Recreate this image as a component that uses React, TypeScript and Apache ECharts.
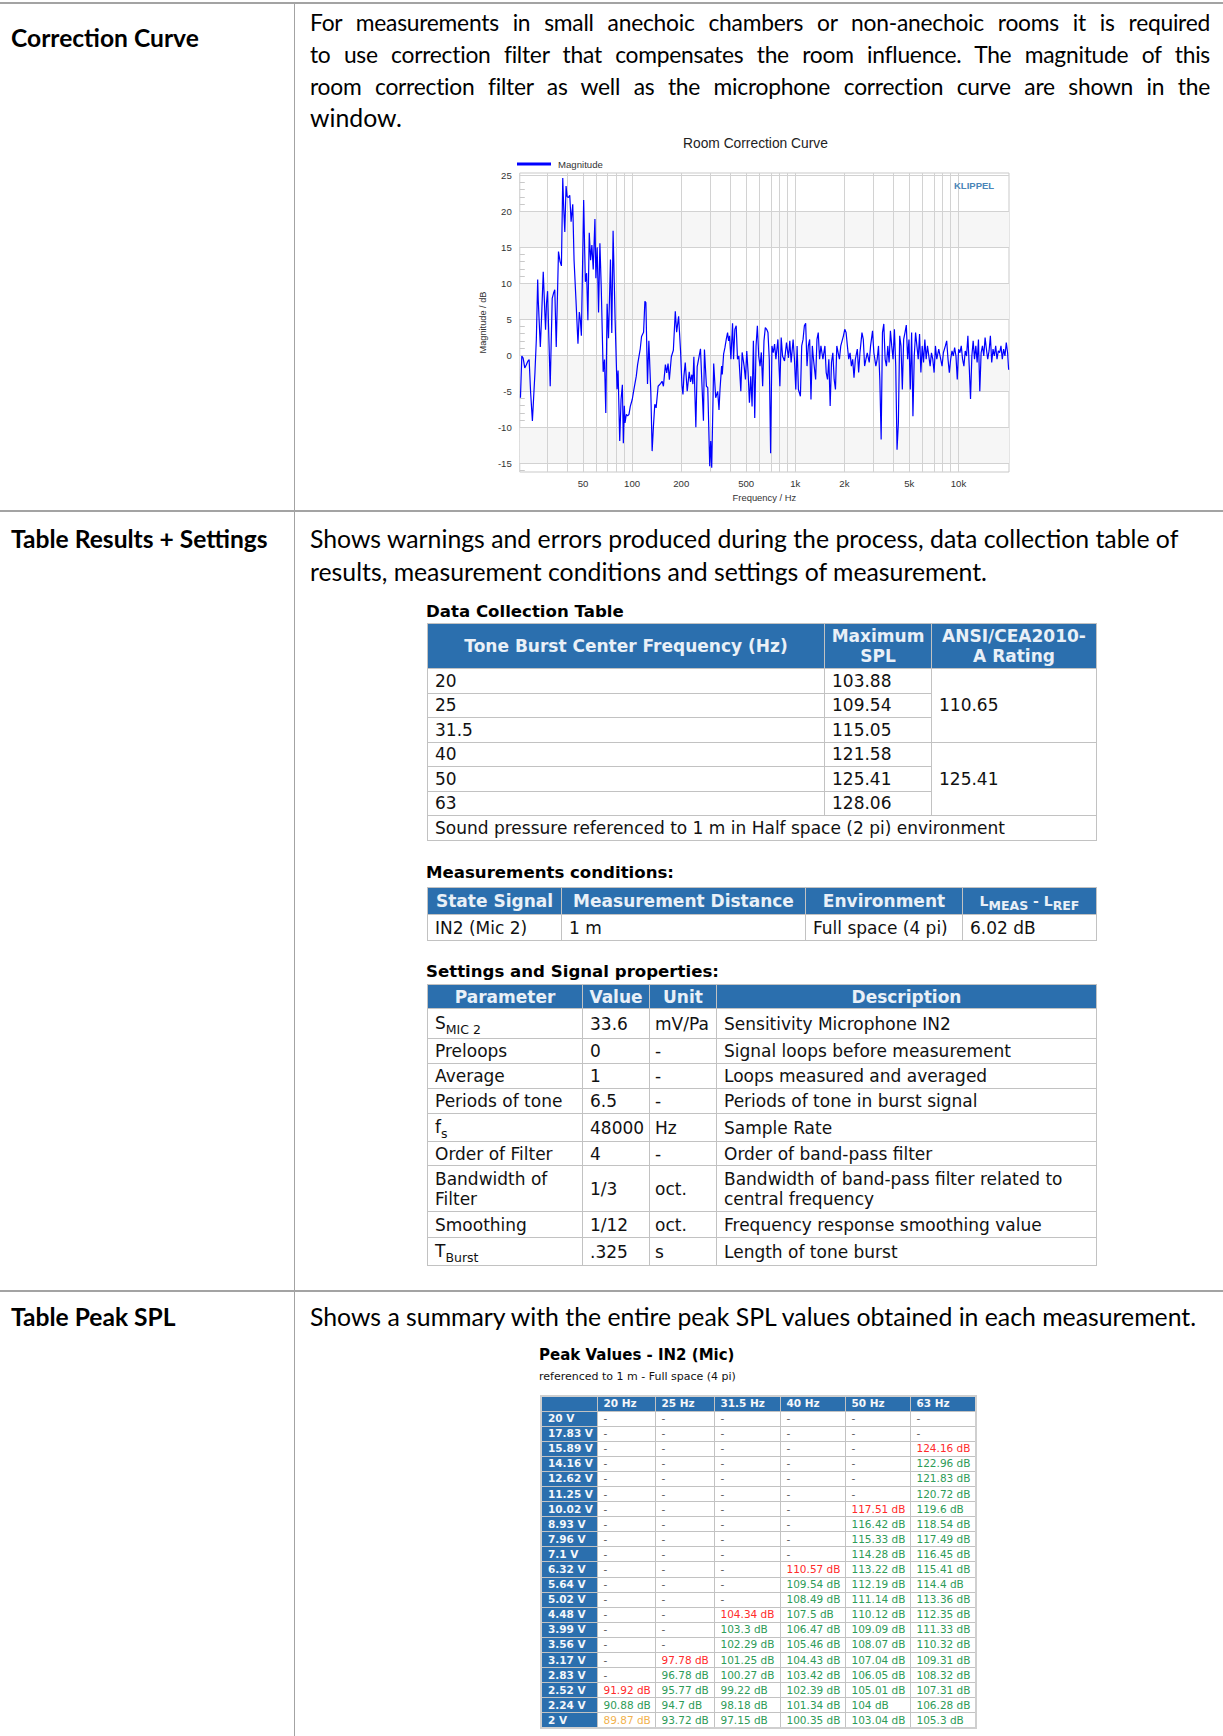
import React, { useEffect, useRef } from "react";
import * as echarts from "echarts";

// ---------------- Chart data (Room Correction Curve) ----------------
const freqLowHz = [
  20.7, 21.1, 21.5, 22.0, 22.5, 23.0, 23.4, 23.9, 24.5, 24.9,
  25.4, 25.9, 26.4, 26.6, 27.4, 27.9, 28.55, 29.2, 29.5, 29.9,
  30.35, 31.5, 32.4, 33.0, 33.6, 34.3, 35.4, 36.2, 36.9, 37.6,
  38.15, 38.7, 39.4, 40.0, 40.7, 41.5, 42.3, 43.3, 44.1, 45.3,
  46.6, 47.5, 48.2, 48.9, 50.5, 51.7, 52.65, 53.6, 54.65, 55.7,
  56.7, 57.8, 59.2, 60.0, 61.1, 62.3, 63.5, 64.7, 66.5, 67.75,
  69.0, 70.3, 71.7, 73.7, 75.1, 76.5, 78.7, 80.9, 82.05, 84.0,
  85.6, 87.2, 88.4, 89.65, 90.5, 92.2, 93.9, 95.7, 97.5, 100.3,
  102.7, 106.1, 108.1, 112.2, 114.3, 117.6, 119.8, 121.5, 124.3, 126.7,
  130.3, 132.7, 135.2, 137.8, 140.4, 144.4, 149.8, 152.7, 155.6, 160,
  163, 166.1, 169.2, 174, 179, 184, 187.5, 192.8, 198.3, 202.1,
  205, 207.8, 211.7, 217.7, 223.9, 228.1, 232.5, 235.8, 239.1, 245.9,
  250.5, 262.5, 273.7, 277.6, 285.5, 290.9, 299.1, 303.3, 307.6, 316.3,
  325.3, 334.6, 340.9, 345.7,
];
const magLowDb = [
  -5.9, -0.1, -0.4, -1.75, -1.3, -0.8, -0.6, -5.2, -9.1, -6.1,
  -2.4, 2.2, 10.5, 7.7, 1.15, 5.4, 11.6, 5.9, 3.55, 7.25,
  8.9, -4.3, 7.9, 8.6, 9.1, 1.15, 14.4, 13.0, 12.4, 24.6,
  20.2, 17.1, 23.5, 22.0, 21.9, 22.2, 18.55, 20.95, 13.2, 7.7,
  1.6, 6.0, 4.9, 2.7, 21.55, 10.2, 11.4, 4.85, 17.0, 13.2,
  15.3, 11.9, 18.9, 10.7, 15.0, 5.95, 15.55, 9.55, -2.3, -0.6,
  -8.0, 7.15, 2.35, 13.3, 3.1, 17.3, 4.9, -4.7, -2.1, -11.9,
  -6.1, -4.1, -12.2, -7.0, -9.4, -8.2, -8.4, -8.2, -7.1, -6.1,
  -4.7, -2.9, -1.3, 0.9, 2.6, 3.2, 7.5, 7.3, -4.0, 2.0,
  -5.2, -13.3, -9.8, -6.8, -7.3, -4.3, -3.9, -3.6, -4.3, -1.3,
  -2.45, -1.15, -3.4, -0.2, 0.7, 6.1, 3.2, 5.4, 0.45, -4.2,
  -5.45, -2.9, -1.0, -5.0, -2.3, -3.7, -2.7, -4.0, -0.2, -10.0,
  -1.6, 0.9, -9.1, 0.8, -4.3, -4.5, -15.4, -11.9, -15.6, -1.15,
  -5.9, -5.0, -7.6, -4.75,
];
const freqHighHz = [
  353.7, 357, 363.7, 370.6, 377.6, 384.7, 390.2, 395.7, 403.2, 412.7,
  418.6, 426.4, 434.5, 442.6, 451, 463.8, 472.5, 485.9, 495.1, 504.4,
  514, 523.7, 533.6, 543.6, 553.8, 564.3, 575, 585.8, 596.9, 608.1,
  619.5, 631.2, 643.1, 655.3, 667.6, 680.2, 693, 706.1, 719.4, 732.9,
  746.8, 760.9, 782.5, 804.7, 819.9, 835.4, 859.1, 883.5, 908.6, 925.7,
  943.2, 970, 988.3, 1007, 1026, 1045, 1075, 1095, 1116, 1137,
  1158, 1180, 1202, 1225, 1248, 1272, 1296, 1333, 1358, 1383,
  1409, 1436, 1477, 1519, 1547, 1576, 1606, 1636, 1667, 1699,
  1731, 1763, 1797, 1831, 1865, 1900, 1936, 1973, 2010, 2048,
  2086, 2126, 2166, 2207, 2248, 2290, 2334, 2400, 2445, 2491,
  2562, 2611, 2660, 2710, 2761, 2839, 2893, 2975, 3031, 3117,
  3176, 3236, 3297, 3359, 3422, 3487, 3553, 3620, 3688, 3758,
  3828, 3900, 3974, 4050, 4126, 4203, 4282, 4363, 4445, 4529,
  4615, 4702, 4791, 4881, 4973, 5067, 5163, 5260, 5359, 5460,
  5563, 5668, 5775, 5884, 5995, 6107, 6222, 6340, 6459, 6581,
  6705, 6832, 6960, 7092, 7226, 7362, 7571, 7714, 7933, 8082,
  8312, 8469, 8629, 8792, 8957, 9126, 9298, 9474, 9652, 9834,
  10019, 10208, 10401, 10597, 10797, 11000, 11208, 11420, 11635, 11853,
  12077, 12305, 12538, 12774, 13014, 13259, 13510, 13765, 14025, 14289,
  14558, 14833, 15113, 15398, 15688, 15983, 16285, 16593, 16905, 17223,
  17548, 17879, 18217, 18560, 18910, 19266, 19630, 20001, 20300,
];
const magHighDb = [
  -1.5, -2.65, 0.15, 1.05, 2.2, 3.15, 2.0, 2.7, -0.55, 4.45,
  -0.55, 3.6, 4.1, -0.55, -0.1, -5.0, 0.4, -1.5, -3.35, 0.6,
  -2.4, -6.6, -2.9, -7.1, 2.0, -8.7, 1.3, 4.1, -0.1, -1.5,
  0.4, -4.3, 2.0, 3.85, 3.6, 3.15, -0.55, -13.6, 1.3, 0.35,
  1.55, -0.55, 2.2, -4.3, 2.45, -0.1, -0.8, 1.75, -0.35, 2.0,
  -1.0, 2.2, -0.55, -4.75, 1.3, -4.75, -5.7, 1.3, 2.2, 4.1,
  4.45, -1.5, 1.3, 2.2, -6.15, 1.3, -0.8, -3.35, 2.2, 3.15,
  -0.55, 1.3, -0.55, 1.3, -2.4, -3.35, -0.55, -7.05, -1.0, 0.35,
  -3.35, -4.75, 1.3, 0.35, -0.55, 1.3, 2.0, 2.7, 3.6, 3.15,
  1.3, -0.55, 0.35, -1.5, -0.55, -3.1, -0.55, 0.85, -2.4, 0.35,
  3.15, 2.2, -1.5, -0.55, 0.35, -1.0, 1.3, 3.4, 0.35, -1.5,
  -0.55, 1.3, -3.35, -11.7, 3.15, 4.35, -0.55, -1.5, 1.3, -1.0,
  3.4, 1.3, -0.55, 3.6, -1.5, -13.1, -9.4, 2.7, 1.3, -4.75,
  2.2, 3.15, 4.2, -0.55, 2.2, -4.75, 3.15, -8.45, -0.1, 3.15,
  1.3, -0.55, 2.95, -2.4, 1.3, -1.0, 2.2, -0.55, 1.3, -0.1,
  -1.5, 0.35, -0.55, -2.4, 1.3, -0.55, 0.85, -0.1, -1.5, 0.35,
  1.3, 2.0, -0.55, -2.4, -0.55, 0.6, -0.1, 1.05, -0.1, -3.35,
  0.85, 0.35, 1.3, -0.55, -1.5, 0.6, -0.1, 2.7, -1.5, -6.05,
  -0.1, 2.0, -0.55, 1.3, -1.0, 2.2, -5.0, 0.35, 1.3, -0.1,
  2.45, 0.85, -0.55, 0.6, 2.7, -1.0, 0.85, -0.1, 1.3, -0.55,
  0.6, 0.35, 1.3, -0.55, 0.85, -0.1, 1.75, 0.35, -2.0,
];

const xAxisMinHz = 20.5;
const xAxisMaxHz = 20400;
const yAxisMinDb = -16.2;
const yAxisMaxDb = 25.3;
const xLabelValuesHz = [50, 100, 200, 500, 1000, 2000, 5000, 10000];
const xGridValuesHz = [
  30, 40, 50, 60, 70, 80, 90, 100, 200, 300, 400, 500, 600, 700, 800, 900,
  1000, 2000, 3000, 4000, 5000, 6000, 7000, 8000, 9000, 10000,
];
const yLabelValuesDb = [-15, -10, -5, 0, 5, 10, 15, 20, 25];
const yMinorTickDb = [
  -16, -15, -14, -13, -12, -11, -10, -9, -8, -7, -6, -5, -4, -3, -2, -1, 0,
  1, 2, 3, 4, 5, 6, 7, 8, 9, 10, 11, 12, 13, 14, 15, 16, 17, 18, 19, 20, 21,
  22, 23, 24, 25,
];
const shadedBandsDb = [
  [-15, -10],
  [-5, 0],
  [5, 10],
  [15, 20],
];

// ---------------- Table data ----------------
const dcFrequencies = ["20", "25", "31.5", "40", "50", "63"];
const dcMaxSpl = ["103.88", "109.54", "115.05", "121.58", "125.41", "128.06"];
const dcRatings = ["110.65", "125.41"];

const settingsParams = ["S|MIC 2", "Preloops", "Average", "Periods of tone", "f|s", "Order of Filter", "Bandwidth of\nFilter", "Smoothing", "T|Burst"];
const settingsValues = ["33.6", "0", "1", "6.5", "48000", "4", "1/3", "1/12", ".325"];
const settingsUnits = ["mV/Pa", "-", "-", "-", "Hz", "-", "oct.", "oct.", "s"];
const settingsDescriptions = [
  "Sensitivity Microphone IN2",
  "Signal loops before measurement",
  "Loops measured and averaged",
  "Periods of tone in burst signal",
  "Sample Rate",
  "Order of band-pass filter",
  "Bandwidth of band-pass filter related to\ncentral frequency",
  "Frequency response smoothing value",
  "Length of tone burst",
];
const settingsRowHeights = [30, 25, 25, 25, 28, 24, 46, 26, 28];

const peakVoltages = ["20 V", "17.83 V", "15.89 V", "14.16 V", "12.62 V", "11.25 V", "10.02 V", "8.93 V", "7.96 V", "7.1 V", "6.32 V", "5.64 V", "5.02 V", "4.48 V", "3.99 V", "3.56 V", "3.17 V", "2.83 V", "2.52 V", "2.24 V", "2 V"];
const peakFrequencies = ["20 Hz", "25 Hz", "31.5 Hz", "40 Hz", "50 Hz", "63 Hz"];
const peak20Hz = [null, null, null, null, null, null, null, null, null, null, null, null, null, null, null, null, null, null, 91.92, 90.88, 89.87];
const peak25Hz = [null, null, null, null, null, null, null, null, null, null, null, null, null, null, null, null, 97.78, 96.78, 95.77, 94.7, 93.72];
const peak31Hz = [null, null, null, null, null, null, null, null, null, null, null, null, null, 104.34, 103.3, 102.29, 101.25, 100.27, 99.22, 98.18, 97.15];
const peak40Hz = [null, null, null, null, null, null, null, null, null, null, 110.57, 109.54, 108.49, 107.5, 106.47, 105.46, 104.43, 103.42, 102.39, 101.34, 100.35];
const peak50Hz = [null, null, null, null, null, null, 117.51, 116.42, 115.33, 114.28, 113.22, 112.19, 111.14, 110.12, 109.09, 108.07, 107.04, 106.05, 105.01, 104, 103.04];
const peak63Hz = [null, null, 124.16, 122.96, 121.83, 120.72, 119.6, 118.54, 117.49, 116.45, 115.41, 114.4, 113.36, 112.35, 111.33, 110.32, 109.31, 108.32, 107.31, 106.28, 105.3];
const peakColumns = [peak20Hz, peak25Hz, peak31Hz, peak40Hz, peak50Hz, peak63Hz];
const peakRedCells = [[18, 0], [16, 1], [13, 2], [10, 3], [6, 4], [2, 5]];
const peakOrangeCells = [[20, 0]];

// ---------------- Styles ----------------
const BLUE = "#2b6fae";
const HEAD_TEXT = "#e9f0f7";
const CELL_BORDER = "1px solid #c2c2c2";
const TABLE_FONT = '"DejaVu Sans", Verdana, sans-serif';
const BODY_FONT = 'Lato, "Open Sans", sans-serif';
const RULE = "#a3a3a3";
const TABLE_SIZE = 17;

function CorrectionChart() {
  const ref = useRef<HTMLDivElement>(null);
  useEffect(() => {
    if (!ref.current) return;
    const chart = echarts.init(ref.current, null, { renderer: "svg" });
    const toLog = (f: number) => Math.log10(f);
    const points: number[][] = [];
    freqLowHz.forEach((f, i) => points.push([toLog(f), magLowDb[i]]));
    freqHighHz.forEach((f, i) => points.push([toLog(f), magHighDb[i]]));
    const fmtHz = (v: number) => {
      const hz = Math.round(Math.pow(10, v));
      return hz >= 1000 ? hz / 1000 + "k" : String(hz);
    };
    const chartFont = '"Liberation Sans", Arial, sans-serif';
    chart.setOption({
      animation: false,
      backgroundColor: "transparent",
      textStyle: { fontFamily: chartFont },
      title: {
        text: "Room Correction Curve",
        left: 213,
        top: 11,
        padding: 0,
        textStyle: { fontSize: 13.8, fontWeight: "normal", color: "#222", fontFamily: chartFont },
      },
      legend: {
        data: ["Magnitude"],
        left: 47,
        top: 34,
        padding: 0,
        icon: "rect",
        itemWidth: 34,
        itemHeight: 3,
        itemGap: 6,
        textStyle: { fontSize: 9.6, color: "#333", fontFamily: chartFont, padding: [0, 0, 0, 2] },
      },
      grid: {
        left: 47,
        right: 11,
        top: 48,
        bottom: 38,
        show: true,
        backgroundColor: "#fff",
        borderColor: "#c9c9c9",
        borderWidth: 1,
      },
      xAxis: {
        type: "value",
        min: toLog(xAxisMinHz),
        max: toLog(xAxisMaxHz),
        axisLine: { show: false },
        axisTick: { show: false },
        splitLine: { show: false },
        axisLabel: {
          customValues: xLabelValuesHz.map(toLog),
          formatter: fmtHz,
          fontSize: 9.6,
          color: "#333",
          margin: 6,
        },
        name: "Frequency / Hz",
        nameLocation: "middle",
        nameGap: 19,
        nameTextStyle: { fontSize: 9.4, color: "#333" },
      },
      yAxis: {
        type: "value",
        min: yAxisMinDb,
        max: yAxisMaxDb,
        axisLine: { show: false },
        axisTick: {
          show: true,
          inside: true,
          length: 5,
          customValues: yMinorTickDb,
          lineStyle: { color: "#c9c9c9", width: 1 },
        },
        splitLine: { show: false },
        axisLabel: {
          customValues: yLabelValuesDb,
          fontSize: 9.6,
          color: "#333",
          margin: 8,
        },
        name: "Magnitude / dB",
        nameLocation: "middle",
        nameGap: 30,
        nameRotate: 90,
        nameTextStyle: { fontSize: 9.2, color: "#333" },
      },
      graphic: [
        {
          type: "text",
          left: 484,
          top: 55,
          z: 10,
          style: { text: "KLIPPEL", fill: "#4a86b8", font: 'bold 9.5px "Liberation Sans", Arial, sans-serif' },
        },
      ],
      series: [
        {
          name: "grid",
          type: "line",
          data: points,
          showSymbol: false,
          silent: true,
          z: 1,
          lineStyle: { opacity: 0, width: 0 },
          markArea: {
            silent: true,
            z: 1,
            itemStyle: { color: "#f6f6f6" },
            data: shadedBandsDb.map((b) => [{ yAxis: b[0] }, { yAxis: b[1] }]),
          },
          markLine: {
            silent: true,
            z: 1.5,
            symbol: ["none", "none"],
            label: { show: false },
            lineStyle: { color: "#d2d2d2", width: 1, type: "solid" },
            data: [
              ...xGridValuesHz.map((f) => ({ xAxis: toLog(f) })),
              ...yLabelValuesDb.map((v) => ({ yAxis: v })),
            ],
          },
        },
        {
          name: "Magnitude",
          type: "line",
          data: points,
          showSymbol: false,
          z: 3,
          color: "#0000ff",
          lineStyle: { color: "#0000ff", width: 1.2 },
        },
      ],
    });
    return () => chart.dispose();
  }, []);
  return (
    <div
      ref={ref}
      style={{ position: "absolute", left: 470, top: 125, width: 550, height: 385 }}
    />
  );
}

const thStyle = (extra: any = {}) => ({
  background: BLUE,
  color: HEAD_TEXT,
  fontWeight: "bold",
  textAlign: "center" as const,
  border: CELL_BORDER,
  padding: 0,
  whiteSpace: "nowrap" as const,
  ...extra,
});
const tdStyle = (extra: any = {}) => ({
  border: CELL_BORDER,
  padding: "0 0 0 7px",
  textAlign: "left" as const,
  whiteSpace: "nowrap" as const,
  verticalAlign: "middle" as const,
  ...extra,
});

function withBreaks(text: string) {
  const parts = text.split("\n");
  return parts.map((p, i) => (
    <React.Fragment key={i}>
      {p}
      {i < parts.length - 1 ? <br /> : null}
    </React.Fragment>
  ));
}

function withSub(text: string) {
  const [main, sub] = text.split("|");
  if (sub === undefined) return withBreaks(main);
  return (
    <>
      {main}
      <span style={{ fontSize: 12.5, position: "relative", top: 5 }}>{sub}</span>
    </>
  );
}

const tableBase = {
  position: "absolute" as const,
  borderCollapse: "collapse" as const,
  tableLayout: "fixed" as const,
  fontFamily: TABLE_FONT,
  fontSize: TABLE_SIZE,
  color: "#111",
  lineHeight: "20px",
  border: "1px solid #bdbdbd",
};

function DataCollectionTable() {
  return (
    <table style={{ ...tableBase, left: 427, top: 623, width: 669 }}>
      <colgroup>
        <col style={{ width: 397 }} />
        <col style={{ width: 107 }} />
        <col style={{ width: 165 }} />
      </colgroup>
      <tbody>
        <tr style={{ height: 45 }}>
          <th style={thStyle()}>Tone Burst Center Frequency (Hz)</th>
          <th style={thStyle()}>Maximum<br />SPL</th>
          <th style={thStyle()}>ANSI/CEA2010-<br />A Rating</th>
        </tr>
        {dcFrequencies.map((f, i) => (
          <tr key={f} style={{ height: 24.5 }}>
            <td style={tdStyle()}>{f}</td>
            <td style={tdStyle()}>{dcMaxSpl[i]}</td>
            {i % 3 === 0 ? (
              <td rowSpan={3} style={tdStyle()}>{dcRatings[i / 3]}</td>
            ) : null}
          </tr>
        ))}
        <tr style={{ height: 25 }}>
          <td colSpan={3} style={tdStyle()}>
            Sound pressure referenced to 1 m in Half space (2 pi) environment
          </td>
        </tr>
      </tbody>
    </table>
  );
}

function ConditionsTable() {
  return (
    <table style={{ ...tableBase, left: 427, top: 887, width: 669 }}>
      <colgroup>
        <col style={{ width: 134 }} />
        <col style={{ width: 244 }} />
        <col style={{ width: 157 }} />
        <col style={{ width: 134 }} />
      </colgroup>
      <tbody>
        <tr style={{ height: 27 }}>
          <th style={thStyle()}>State Signal</th>
          <th style={thStyle()}>Measurement Distance</th>
          <th style={thStyle()}>Environment</th>
          <th style={thStyle()}>
            <span style={{ fontSize: 14 }}>L</span>
            <span style={{ fontSize: 12.5, position: "relative", top: 4 }}>MEAS</span>
            <span style={{ fontSize: 14 }}> - L</span>
            <span style={{ fontSize: 12.5, position: "relative", top: 4 }}>REF</span>
          </th>
        </tr>
        <tr style={{ height: 26 }}>
          <td style={tdStyle()}>IN2 (Mic 2)</td>
          <td style={tdStyle()}>1 m</td>
          <td style={tdStyle()}>Full space (4 pi)</td>
          <td style={tdStyle()}>6.02 dB</td>
        </tr>
      </tbody>
    </table>
  );
}

function SettingsTable() {
  return (
    <table style={{ ...tableBase, left: 427, top: 984, width: 669 }}>
      <colgroup>
        <col style={{ width: 155 }} />
        <col style={{ width: 67 }} />
        <col style={{ width: 67 }} />
        <col style={{ width: 380 }} />
      </colgroup>
      <tbody>
        <tr style={{ height: 24 }}>
          <th style={thStyle()}>Parameter</th>
          <th style={thStyle()}>Value</th>
          <th style={thStyle()}>Unit</th>
          <th style={thStyle()}>Description</th>
        </tr>
        {settingsParams.map((p, i) => (
          <tr key={i} style={{ height: settingsRowHeights[i] }}>
            <td style={tdStyle()}>{withSub(p)}</td>
            <td style={tdStyle()}>{settingsValues[i]}</td>
            <td style={tdStyle({ padding: "0 0 0 5px" })}>{settingsUnits[i]}</td>
            <td style={tdStyle()}>{withBreaks(settingsDescriptions[i])}</td>
          </tr>
        ))}
      </tbody>
    </table>
  );
}

function PeakTable() {
  const colWidths = [56, 58, 59, 66, 65, 65, 66];
  const isIn = (list: number[][], r: number, c: number) =>
    list.some((p) => p[0] === r && p[1] === c);
  const cellColor = (r: number, c: number, v: number | null) => {
    if (v === null) return "#555";
    if (isIn(peakRedCells, r, c)) return "#ff2b2b";
    if (isIn(peakOrangeCells, r, c)) return "#f2b24e";
    return "#2e9b57";
  };
  const headCell = {
    background: BLUE,
    color: "#f4f7fb",
    fontWeight: "bold",
    border: "1px solid #c2c2c2",
    padding: "0 0 0 6px",
    textAlign: "left" as const,
    whiteSpace: "nowrap" as const,
  };
  return (
    <table
      style={{
        position: "absolute", left: 540, top: 1395, width: 435,
        borderCollapse: "collapse", tableLayout: "fixed",
        fontFamily: TABLE_FONT, fontSize: 10.5, lineHeight: "13px",
        border: "2px solid #cfcfcf",
      }}
    >
      <colgroup>
        {colWidths.map((w, i) => (
          <col key={i} style={{ width: w }} />
        ))}
      </colgroup>
      <tbody>
        <tr style={{ height: 15 }}>
          <th style={headCell}></th>
          {peakFrequencies.map((f) => (
            <th key={f} style={headCell}>{f}</th>
          ))}
        </tr>
        {peakVoltages.map((v, r) => (
          <tr key={v} style={{ height: 15.1 }}>
            <th style={headCell}>{v}</th>
            {peakColumns.map((col, c) => {
              const val = col[r];
              return (
                <td
                  key={c}
                  style={{
                    border: "1px solid #c2c2c2",
                    padding: "0 0 0 6px",
                    whiteSpace: "nowrap",
                    color: cellColor(r, c, val),
                    background: "#fff",
                  }}
                >
                  {val === null ? "-" : `${val} dB`}
                </td>
              );
            })}
          </tr>
        ))}
      </tbody>
    </table>
  );
}

const row1Lines = [
  "For measurements in small anechoic chambers or non-anechoic rooms it is required",
  "to use correction filter that compensates the room influence. The magnitude of this",
  "room correction filter as well as the microphone correction curve are shown in the",
];

export default function App() {
  const bodyText = {
    position: "absolute" as const,
    fontFamily: BODY_FONT,
    fontSize: 24.8,
    lineHeight: "32px",
    color: "#000",
    whiteSpace: "nowrap" as const,
  };
  const label = { ...bodyText, left: 11, fontWeight: "bold" as const, fontSize: 24.6 };
  const heading = {
    position: "absolute" as const,
    left: 426,
    fontFamily: TABLE_FONT,
    fontWeight: "bold" as const,
    fontSize: 16.6,
    lineHeight: "20px",
    color: "#000",
    whiteSpace: "nowrap" as const,
  };
  return (
    <div
      style={{
        position: "absolute", left: 0, top: 0, width: 1223, height: 1736,
        background: "#fff", overflow: "hidden",
      }}
    >
      {/* rules */}
      <div style={{ position: "absolute", left: 0, top: 2, width: 1223, height: 2, background: RULE }} />
      <div style={{ position: "absolute", left: 294, top: 3, width: 1, height: 1733, background: RULE }} />
      <div style={{ position: "absolute", left: 0, top: 510, width: 1223, height: 2, background: RULE }} />
      <div style={{ position: "absolute", left: 0, top: 1290, width: 1223, height: 2, background: RULE }} />

      {/* Row 1 */}
      <div style={{ ...label, top: 22 }}>Correction Curve</div>
      {row1Lines.map((t, i) => (
        <div
          key={i}
          style={{
            ...bodyText, fontSize: 22.8, letterSpacing: -0.25,
            left: 310, top: 6 + i * 32, width: 900,
            whiteSpace: "normal", textAlign: "justify", textAlignLast: "justify",
          }}
        >
          {t}
        </div>
      ))}
      <div style={{ ...bodyText, left: 310, top: 102 }}>window.</div>
      <CorrectionChart />

      {/* Row 2 */}
      <div style={{ ...label, top: 523 }}>Table Results + Settings</div>
      <div style={{ ...bodyText, left: 310, top: 523 }}>
        Shows warnings and errors produced during the process, data collection table of
      </div>
      <div style={{ ...bodyText, left: 310, top: 556 }}>
        results, measurement conditions and settings of measurement.
      </div>

      <div style={{ ...heading, top: 602 }}>Data Collection Table</div>
      <DataCollectionTable />
      <div style={{ ...heading, top: 863 }}>Measurements conditions:</div>
      <ConditionsTable />
      <div style={{ ...heading, top: 962 }}>Settings and Signal properties:</div>
      <SettingsTable />

      {/* Row 3 */}
      <div style={{ ...label, top: 1301 }}>Table Peak SPL</div>
      <div style={{ ...bodyText, left: 310, top: 1301 }}>
        Shows a summary with the entire peak SPL values obtained in each measurement.
      </div>
      <div
        style={{
          position: "absolute", left: 539, top: 1346, fontFamily: TABLE_FONT,
          fontWeight: "bold", fontSize: 15, lineHeight: "18px", color: "#000", whiteSpace: "nowrap",
        }}
      >
        Peak Values - IN2 (Mic)
      </div>
      <div
        style={{
          position: "absolute", left: 539, top: 1370, fontFamily: TABLE_FONT,
          fontSize: 11, lineHeight: "13px", color: "#111", whiteSpace: "nowrap",
        }}
      >
        referenced to 1 m - Full space (4 pi)
      </div>
      <PeakTable />
    </div>
  );
}
